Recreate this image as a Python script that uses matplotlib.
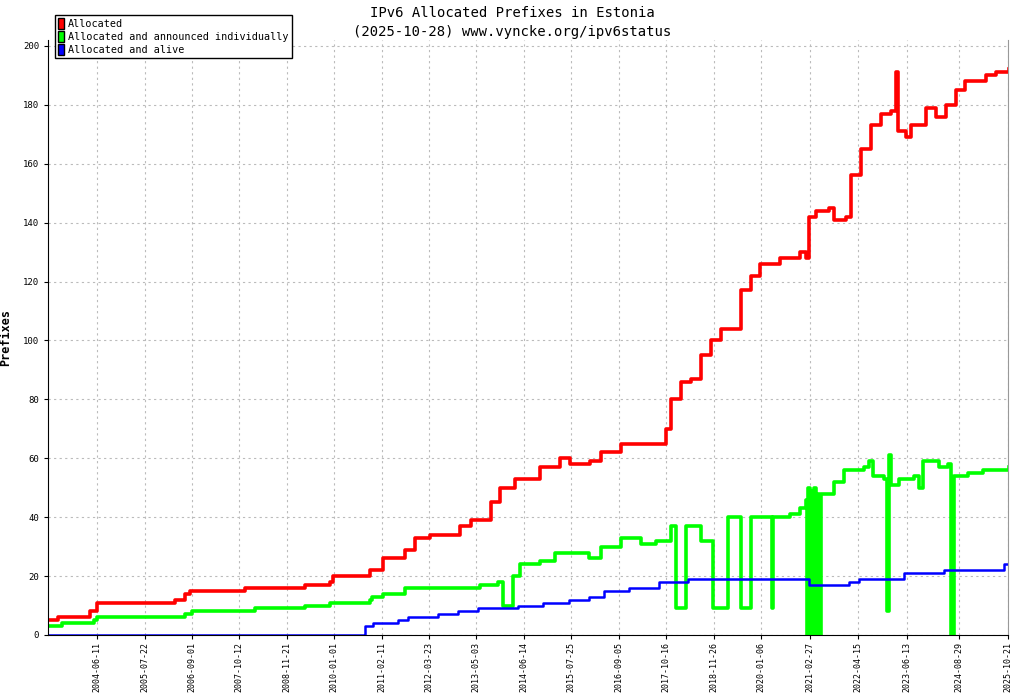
import matplotlib
matplotlib.use("Agg")
import matplotlib.pyplot as plt
from matplotlib.patches import Patch
import datetime as dt

# values, x in decimal years
red_t = [2003.29, 2003.52, 2004.28, 2004.44, 2004.51, 2006.27, 2006.51, 2006.62, 2007.91, 2009.32,
         2009.91, 2009.98, 2010.85, 2011.15, 2011.67, 2011.90, 2012.26, 2012.96, 2013.20, 2013.67,
         2013.90, 2014.25, 2014.84, 2015.31, 2015.54, 2016.01, 2016.25, 2016.72, 2017.54, 2017.78,
         2017.90, 2018.13, 2018.37, 2018.60, 2018.83, 2019.07, 2019.54, 2019.77, 2020.00, 2020.47,
         2020.94, 2021.06, 2021.13, 2021.30, 2021.60, 2021.72, 2022.00, 2022.12, 2022.35, 2022.59,
         2022.82, 2023.06, 2023.17, 2023.22, 2023.41, 2023.52, 2023.88, 2024.11, 2024.35, 2024.58,
         2024.81, 2025.28, 2025.52, 2025.83]
red_v = [5, 6, 8, 11, 11, 12, 14, 15, 16, 17,
         18, 20, 22, 26, 29, 33, 34, 37, 39, 45,
         50, 53, 57, 60, 58, 59, 62, 65, 65, 70,
         80, 86, 87, 95, 100, 104, 117, 122, 126, 128,
         130, 128, 142, 144, 145, 141, 142, 156, 165, 173,
         177, 178, 191, 171, 169, 173, 179, 176, 180, 185,
         188, 190, 191, 192]

green_t = [2003.29, 2003.61, 2004.38, 2004.44, 2006.51, 2006.67, 2008.15, 2009.32, 2009.91, 2010.85,
           2010.90, 2011.15, 2011.67, 2013.43, 2013.85, 2013.97, 2014.20, 2014.37, 2014.84, 2015.19,
           2015.97, 2016.25, 2016.72, 2017.19, 2017.54, 2017.90, 2018.01, 2018.25, 2018.60, 2018.88,
           2019.23, 2019.54, 2019.77, 2020.28, 2020.30, 2020.70, 2020.94, 2021.06, 2021.08, 2021.12,
           2021.15, 2021.19, 2021.22, 2021.26, 2021.30, 2021.34, 2021.38, 2021.43, 2021.49, 2021.72,
           2021.95, 2022.42, 2022.54, 2022.65, 2022.89, 2022.96, 2023.01, 2023.06, 2023.24, 2023.59,
           2023.71, 2023.82, 2024.18, 2024.41, 2024.46, 2024.53, 2024.88, 2025.23, 2025.83]
green_v = [3, 4, 5, 6, 7, 8, 9, 10, 11, 12,
           13, 14, 16, 17, 18, 10, 20, 24, 25, 28,
           26, 30, 33, 31, 32, 37, 9, 37, 32, 9,
           40, 9, 40, 9, 40, 41, 43, 46, 0, 50,
           0, 49, 0, 50, 0, 48, 0, 48, 48, 52,
           56, 57, 59, 54, 53, 8, 61, 51, 53, 54,
           50, 59, 57, 58, 0, 54, 55, 56, 57]

blue_t = [2003.29, 2010.70, 2010.73, 2010.92, 2011.50, 2011.74, 2012.44, 2012.91, 2013.38, 2014.32,
          2014.91, 2015.50, 2015.97, 2016.32, 2016.91, 2017.61, 2018.31, 2021.13, 2022.07, 2022.30,
          2023.36, 2024.30, 2025.71, 2025.83]
blue_v = [0, 0, 3, 4, 5, 6, 7, 8, 9, 10,
          11, 12, 13, 15, 16, 18, 19, 17, 18, 19,
          21, 22, 24, 25]

tick_labels = ["2004-06-11", "2005-07-22", "2006-09-01", "2007-10-12", "2008-11-21", "2010-01-01",
               "2011-02-11", "2012-03-23", "2013-05-03", "2014-06-14", "2015-07-25", "2016-09-05",
               "2017-10-16", "2018-11-26", "2020-01-06", "2021-02-27", "2022-04-15", "2023-06-13",
               "2024-08-29", "2025-10-21"]


def to_date(y):
    year = int(y)
    start = dt.datetime(year, 1, 1)
    return start + dt.timedelta(days=(y - year) * 365.25)


plt.rcParams['font.family'] = ['DejaVu Sans Mono']
fig = plt.figure(figsize=(10.24, 7), dpi=100)
ax = fig.add_axes([48 / 1024, 65 / 700, 960 / 1024, 595 / 700])

for t, v, c, lw in [(red_t, red_v, "#ff0000", 2.6), (green_t, green_v, "#00ff00", 2.6),
                    (blue_t, blue_v, "#0000ff", 1.8)]:
    ax.step([to_date(x) for x in t], v, where="post", color=c, lw=lw)

ax.set_xlim(to_date(2003.29), dt.datetime(2025, 10, 22))
ax.set_ylim(0, 202)
ax.set_yticks(range(0, 201, 20))
ax.tick_params(axis="y", labelsize=6.5, length=3)
ticks = [dt.datetime.strptime(s, "%Y-%m-%d") for s in tick_labels]
ax.set_xticks(ticks)
ax.set_xticklabels(tick_labels, rotation=90, fontsize=6)
ax.tick_params(axis="x", length=3, pad=2)
ax.grid(True, color="#bbbbbb", linestyle=(0, (2, 3)), lw=0.8)
ax.set_ylabel("Prefixes", fontsize=8.5, fontweight="bold", labelpad=8)
ax.spines["top"].set_visible(False)
ax.spines["right"].set_color("#999999")

fig.text(0.5, 1 - 13 / 700, "IPv6 Allocated Prefixes in Estonia", ha="center", va="center", fontsize=10)
fig.text(0.5, 1 - 32 / 700, "(2025-10-28) www.vyncke.org/ipv6status", ha="center", va="center", fontsize=10)

handles = [Patch(facecolor="#ff0000", edgecolor="black"),
           Patch(facecolor="#00ff00", edgecolor="black"),
           Patch(facecolor="#0000ff", edgecolor="black")]
fig.legend(handles, ["Allocated", "Allocated and announced individually", "Allocated and alive"],
           loc="upper left", bbox_to_anchor=(50 / 1024, 1 - 10 / 700), fontsize=7.3,
           fancybox=False, edgecolor="black", framealpha=1, handlelength=0.6, handleheight=1.3,
           handletextpad=0.4, borderpad=0.3, labelspacing=0.2)

fig.savefig("out.png", dpi=100)
